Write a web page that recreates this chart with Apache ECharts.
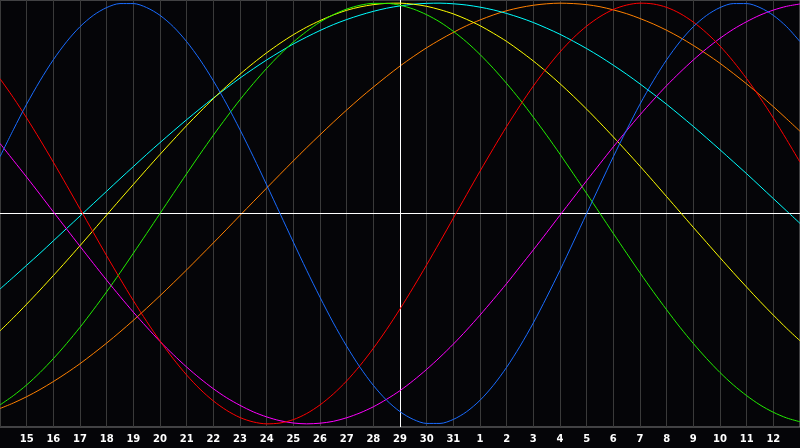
<!DOCTYPE html>
<html><head><meta charset="utf-8">
<style>html,body{margin:0;padding:0;background:#050508}#c{width:800px;height:448px}</style>
<script src="https://cdn.jsdelivr.net/npm/echarts@6/dist/echarts.min.js"></script>
</head><body><div id="c"></div>
<script>
// Day labels, one per grid column (14 and 13 sit on the plot edges and are not labelled)
const days = ['14','15','16','17','18','19','20','21','22','23','24','25','26','27','28','29','30','31','1','2','3','4','5','6','7','8','9','10','11','12','13'];
// Cycle values in per-mille, read every half day (61 readings, from day 14 to day 13)
const physical = [270,398,520,631,731,817,888,942,979,998,998,979,942,888,817,731,
  631,520,398,270,136,0,-136,-270,-398,-520,-631,-731,-817,-888,-942,-979,
  -998,-998,-979,-942,-888,-817,-731,-631,-520,-398,-270,-136,0,136,270,398,
  520,631,731,817,888,942,979,998,998,979,942,888,817];
const emotional = [641,551,454,351,244,134,22,-90,-201,-309,-414,-513,-606,-691,-768,-835,
  -891,-936,-970,-991,-1000,-996,-980,-951,-910,-858,-796,-723,-641,-551,-454,-351,
  -244,-134,-22,90,201,309,414,513,606,691,768,835,891,936,970,991,
  1000,996,980,951,910,858,796,723,641,551,454,351,244];
const intellectual = [-910,-866,-815,-756,-690,-618,-541,-458,-372,-282,-189,-95,0,95,189,282,
  372,458,541,618,690,756,815,866,910,945,972,990,999,999,990,972,
  945,910,866,815,756,690,618,541,458,372,282,189,95,0,-95,-189,
  -282,-372,-458,-541,-618,-690,-756,-815,-866,-910,-945,-972,-990];
const aesthetic = [-558,-496,-431,-364,-295,-225,-153,-80,-7,66,138,210,281,350,418,483,
  546,605,662,715,764,809,850,886,917,944,966,982,993,999,1000,995,
  985,969,949,923,893,857,818,773,725,673,617,558,496,431,364,295,
  225,153,80,7,-66,-138,-210,-281,-350,-418,-483,-546,-605];
const spiritual = [-359,-303,-246,-189,-130,-71,-12,47,106,165,223,281,337,392,446,498,
  549,597,644,688,730,769,806,839,870,898,922,943,961,976,987,995,
  999,1000,997,991,981,968,951,931,908,881,852,819,784,746,705,662,
  616,568,519,467,414,359,303,246,189,130,71,12,-47];
const awareness = [-927,-901,-871,-837,-799,-758,-714,-666,-616,-563,-508,-450,-391,-330,-268,-204,
  -140,-75,-9,56,121,186,250,313,374,434,492,548,601,652,701,746,
  788,826,861,893,920,944,964,979,990,997,1000,998,993,983,968,950,
  927,901,871,837,799,758,714,666,616,563,508,450,391];
const intuitive = [333,253,173,91,8,-74,-156,-237,-317,-394,-469,-540,-608,-671,-730,-784,
  -833,-876,-912,-943,-967,-985,-996,-1000,-997,-988,-971,-948,-919,-883,-842,-794,
  -741,-683,-621,-554,-483,-409,-333,-253,-173,-91,-8,74,156,237,317,394,
  469,540,608,671,730,784,833,876,912,943,967,985,996];

const todayIndex = 15;   // day 29
const readingStep = 0.5; // one reading every half day

const seriesDefs = [
  {name:'Awareness', data:awareness, color:'#ff8000'},
  {name:'Spiritual', data:spiritual, color:'#00ffff'},
  {name:'Aesthetic', data:aesthetic, color:'#ffff00'},
  {name:'Intellectual', data:intellectual, color:'#22ee00'},
  {name:'Intuitive', data:intuitive, color:'#ff00ff'},
  {name:'Emotional', data:emotional, color:'#ff0000'},
  {name:'Physical', data:physical, color:'#1a6cff'}
];
const chart = echarts.init(document.getElementById('c'), null, {renderer:'canvas'});
const series = seriesDefs.map((s, k) => ({
  name: s.name, type:'line', smooth:0.3, symbol:'none', silent:true,
  data: s.data.map((v,j)=>[j*readingStep, v]),
  lineStyle:{color:s.color, width:1},
  z: 3 + k
}));
series.push({
  type:'line', data:[], silent:true, z:2,
  markLine:{silent:true, symbol:['none','none'], label:{show:false},
    lineStyle:{color:'#ffffff', width:1, type:'solid'},
    data:[{xAxis:todayIndex},{yAxis:0}]}
});
chart.setOption({
  animation:false,
  backgroundColor:'#050508',
  grid:{left:0, right:0, top:0, bottom:21, show:true, borderColor:'#808080', borderWidth:1, backgroundColor:'#050508'},
  xAxis:{type:'value', min:0, max:30, interval:1,
    axisLine:{show:false}, axisTick:{show:false},
    splitLine:{show:true, lineStyle:{color:'#3a3a3a', width:1}},
    axisLabel:{show:true, color:'#ffffff', fontFamily:'DejaVu Sans', fontWeight:'bold', fontSize:10, margin:7,
      showMinLabel:false, showMaxLabel:false,
      formatter:(v)=>days[Math.round(v)]}},
  yAxis:{type:'value', min:-1015, max:1015,
    axisLine:{show:false}, axisTick:{show:false}, axisLabel:{show:false}, splitLine:{show:false}},
  series: series
});
</script></body></html>
